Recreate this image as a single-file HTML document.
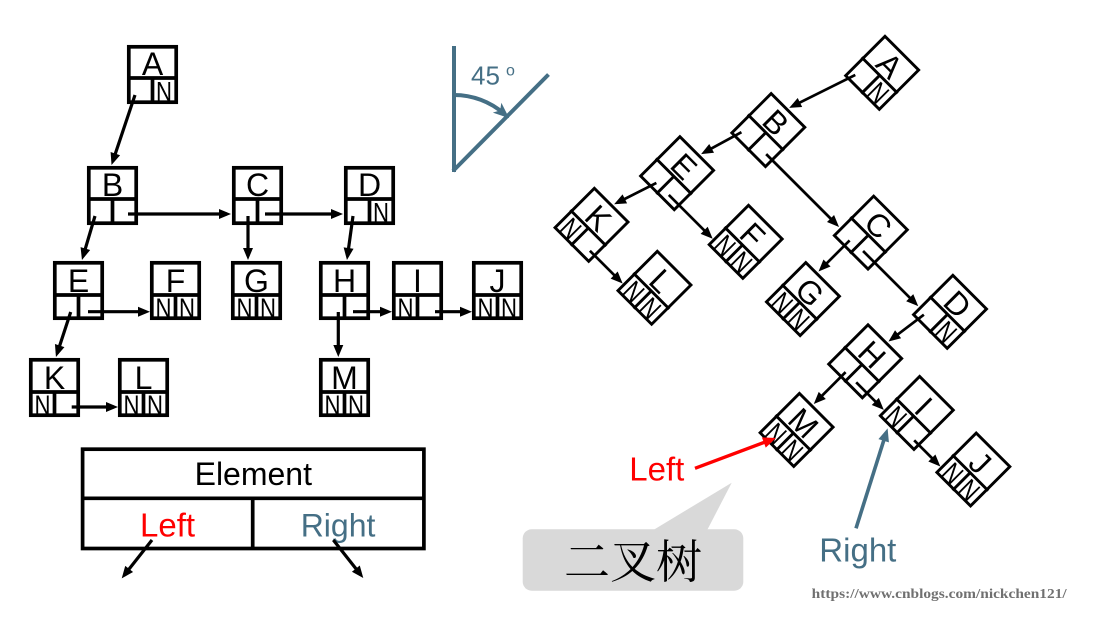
<!DOCTYPE html>
<html>
<head>
<meta charset="utf-8">
<style>
html,body{margin:0;padding:0;background:#fff;}
svg{display:block;}
.nd{fill:none;stroke:#000;stroke-width:3.7;}
.nd text{fill:#000;stroke:none;font-family:"Liberation Sans",Arial,sans-serif;}
.nd .L{font-size:32px;text-anchor:middle;}
.nd .N{font-size:28px;}
.ar{stroke:#000;stroke-width:3.2;fill:none;marker-end:url(#ab);}
.rt .nd{stroke-width:2.9;}
.rt .ar{stroke-width:2.7;}
.t{font-family:"Liberation Sans",Arial,sans-serif;}
</style>
</head>
<body>
<svg width="1099" height="626" viewBox="0 0 1099 626" xmlns="http://www.w3.org/2000/svg">
<defs>
<marker id="ab" markerUnits="userSpaceOnUse" markerWidth="12" markerHeight="10" refX="8" refY="5" orient="auto" overflow="visible"><path d="M0,0 L12,5 L0,10 z" fill="#000"/></marker>
<marker id="ar" markerUnits="userSpaceOnUse" markerWidth="13" markerHeight="11" refX="8" refY="5.5" orient="auto" overflow="visible"><path d="M0,0 L13,5.5 L0,11 z" fill="#ff0000"/></marker>
<marker id="as" markerUnits="userSpaceOnUse" markerWidth="13" markerHeight="11" refX="8" refY="5.5" orient="auto" overflow="visible"><path d="M0,0 L13,5.5 L0,11 z" fill="#456f85"/></marker>
<marker id="a45" markerUnits="userSpaceOnUse" markerWidth="16" markerHeight="13" refX="9" refY="6.5" orient="auto" overflow="visible"><path d="M0,0 L16,6.5 L0,13 L4,6.5 z" fill="#456f85"/></marker>
</defs>

<!-- LEFT TREE -->
<g id="ltree">
<g class="nd" transform="translate(127,45)"><rect x="1.8" y="1.8" width="47.4" height="55.4"/><path d="M0 33H51M25.5 33V59"/><text class="L" x="25.5" y="30">A</text><text class="N" x="29" y="56" textLength="16" lengthAdjust="spacingAndGlyphs">N</text></g>
<g class="nd" transform="translate(87,166)"><rect x="1.8" y="1.8" width="47.4" height="55.4"/><path d="M0 33H51M25.5 33V59"/><text class="L" x="25.5" y="30">B</text></g>
<g class="nd" transform="translate(232,166)"><rect x="1.8" y="1.8" width="47.4" height="55.4"/><path d="M0 33H51M25.5 33V59"/><text class="L" x="25.5" y="30">C</text></g>
<g class="nd" transform="translate(344,166)"><rect x="1.8" y="1.8" width="47.4" height="55.4"/><path d="M0 33H51M25.5 33V59"/><text class="L" x="25.5" y="30">D</text><text class="N" x="29" y="56" textLength="16" lengthAdjust="spacingAndGlyphs">N</text></g>
<g class="nd" transform="translate(53,261)"><rect x="1.8" y="1.8" width="47.4" height="55.4"/><path d="M0 34H51M25.5 34V59"/><text class="L" x="25.5" y="31">E</text></g>
<g class="nd" transform="translate(150,261)"><rect x="1.8" y="1.8" width="47.4" height="55.4"/><path d="M0 34H51M25.5 34V59"/><text class="L" x="25.5" y="31">F</text><text class="N" x="5.5" y="56.5" textLength="16" lengthAdjust="spacingAndGlyphs">N</text><text class="N" x="29" y="56.5" textLength="16" lengthAdjust="spacingAndGlyphs">N</text></g>
<g class="nd" transform="translate(231,261)"><rect x="1.8" y="1.8" width="47.4" height="55.4"/><path d="M0 34H51M25.5 34V59"/><text class="L" x="25.5" y="31">G</text><text class="N" x="5.5" y="56.5" textLength="16" lengthAdjust="spacingAndGlyphs">N</text><text class="N" x="29" y="56.5" textLength="16" lengthAdjust="spacingAndGlyphs">N</text></g>
<g class="nd" transform="translate(319,261)"><rect x="1.8" y="1.8" width="47.4" height="55.4"/><path d="M0 34H51M25.5 34V59"/><text class="L" x="25.5" y="31">H</text></g>
<g class="nd" transform="translate(392,261)"><rect x="1.8" y="1.8" width="47.4" height="55.4"/><path d="M0 34H51M25.5 34V59"/><text class="L" x="25.5" y="31">I</text><text class="N" x="5.5" y="56.5" textLength="16" lengthAdjust="spacingAndGlyphs">N</text></g>
<g class="nd" transform="translate(472,261)"><rect x="1.8" y="1.8" width="47.4" height="55.4"/><path d="M0 34H51M25.5 34V59"/><text class="L" x="25.5" y="31">J</text><text class="N" x="5.5" y="56.5" textLength="16" lengthAdjust="spacingAndGlyphs">N</text><text class="N" x="29" y="56.5" textLength="16" lengthAdjust="spacingAndGlyphs">N</text></g>
<g class="nd" transform="translate(29,358)"><rect x="1.8" y="1.8" width="47.4" height="55.4"/><path d="M0 34H51M25.5 34V59"/><text class="L" x="25.5" y="31">K</text><text class="N" x="5.5" y="56.5" textLength="16" lengthAdjust="spacingAndGlyphs">N</text></g>
<g class="nd" transform="translate(118,358)"><rect x="1.8" y="1.8" width="47.4" height="55.4"/><path d="M0 34H51M25.5 34V59"/><text class="L" x="25.5" y="31">L</text><text class="N" x="5.5" y="56.5" textLength="16" lengthAdjust="spacingAndGlyphs">N</text><text class="N" x="29" y="56.5" textLength="16" lengthAdjust="spacingAndGlyphs">N</text></g>
<g class="nd" transform="translate(319,358)"><rect x="1.8" y="1.8" width="47.4" height="55.4"/><path d="M0 34H51M25.5 34V59"/><text class="L" x="25.5" y="31">M</text><text class="N" x="5.5" y="56.5" textLength="16" lengthAdjust="spacingAndGlyphs">N</text><text class="N" x="29" y="56.5" textLength="16" lengthAdjust="spacingAndGlyphs">N</text></g>

<line class="ar" x1="135" y1="95" x2="112.8" y2="161.2"/>
<line class="ar" x1="95" y1="216" x2="83.1" y2="256.2"/>
<line class="ar" x1="128" y1="214" x2="227" y2="214"/>
<line class="ar" x1="248" y1="216" x2="248" y2="256"/>
<line class="ar" x1="265" y1="214" x2="339" y2="214"/>
<line class="ar" x1="353" y1="216" x2="347.5" y2="256"/>
<line class="ar" x1="70.7" y1="312" x2="57.2" y2="353.2"/>
<line class="ar" x1="88" y1="311.7" x2="146" y2="311.7"/>
<line class="ar" x1="338.3" y1="312" x2="338.3" y2="353"/>
<line class="ar" x1="353" y1="311.7" x2="388" y2="311.7"/>
<line class="ar" x1="435" y1="311.7" x2="468" y2="311.7"/>
<line class="ar" x1="71.7" y1="407" x2="114" y2="407"/>
</g>

<!-- RIGHT (ROTATED) TREE -->
<g class="rt" transform="translate(827,-87.7) rotate(45)">
<g class="nd" transform="translate(127,45)"><rect x="1.7" y="1.7" width="47.6" height="55.6"/><path d="M0 33H51M25.5 33V59"/><text class="L" x="25.5" y="30">A</text><text class="N" x="29" y="56" textLength="16" lengthAdjust="spacingAndGlyphs">N</text></g>
<g class="nd" transform="translate(87,166)"><rect x="1.7" y="1.7" width="47.6" height="55.6"/><path d="M0 33H51M25.5 33V59"/><text class="L" x="25.5" y="30">B</text></g>
<g class="nd" transform="translate(232,166)"><rect x="1.7" y="1.7" width="47.6" height="55.6"/><path d="M0 33H51M25.5 33V59"/><text class="L" x="25.5" y="30">C</text></g>
<g class="nd" transform="translate(344,166)"><rect x="1.7" y="1.7" width="47.6" height="55.6"/><path d="M0 33H51M25.5 33V59"/><text class="L" x="25.5" y="30">D</text><text class="N" x="29" y="56" textLength="16" lengthAdjust="spacingAndGlyphs">N</text></g>
<g class="nd" transform="translate(53,261)"><rect x="1.7" y="1.7" width="47.6" height="55.6"/><path d="M0 34H51M25.5 34V59"/><text class="L" x="25.5" y="31">E</text></g>
<g class="nd" transform="translate(150,261)"><rect x="1.7" y="1.7" width="47.6" height="55.6"/><path d="M0 34H51M25.5 34V59"/><text class="L" x="25.5" y="31">F</text><text class="N" x="5.5" y="56.5" textLength="16" lengthAdjust="spacingAndGlyphs">N</text><text class="N" x="29" y="56.5" textLength="16" lengthAdjust="spacingAndGlyphs">N</text></g>
<g class="nd" transform="translate(231,261)"><rect x="1.7" y="1.7" width="47.6" height="55.6"/><path d="M0 34H51M25.5 34V59"/><text class="L" x="25.5" y="31">G</text><text class="N" x="5.5" y="56.5" textLength="16" lengthAdjust="spacingAndGlyphs">N</text><text class="N" x="29" y="56.5" textLength="16" lengthAdjust="spacingAndGlyphs">N</text></g>
<g class="nd" transform="translate(319,261)"><rect x="1.7" y="1.7" width="47.6" height="55.6"/><path d="M0 34H51M25.5 34V59"/><text class="L" x="25.5" y="31">H</text></g>
<g class="nd" transform="translate(392,261)"><rect x="1.7" y="1.7" width="47.6" height="55.6"/><path d="M0 34H51M25.5 34V59"/><text class="L" x="25.5" y="31">I</text><text class="N" x="5.5" y="56.5" textLength="16" lengthAdjust="spacingAndGlyphs">N</text></g>
<g class="nd" transform="translate(472,261)"><rect x="1.7" y="1.7" width="47.6" height="55.6"/><path d="M0 34H51M25.5 34V59"/><text class="L" x="25.5" y="31">J</text><text class="N" x="5.5" y="56.5" textLength="16" lengthAdjust="spacingAndGlyphs">N</text><text class="N" x="29" y="56.5" textLength="16" lengthAdjust="spacingAndGlyphs">N</text></g>
<g class="nd" transform="translate(29,358)"><rect x="1.7" y="1.7" width="47.6" height="55.6"/><path d="M0 34H51M25.5 34V59"/><text class="L" x="25.5" y="31">K</text><text class="N" x="5.5" y="56.5" textLength="16" lengthAdjust="spacingAndGlyphs">N</text></g>
<g class="nd" transform="translate(118,358)"><rect x="1.7" y="1.7" width="47.6" height="55.6"/><path d="M0 34H51M25.5 34V59"/><text class="L" x="25.5" y="31">L</text><text class="N" x="5.5" y="56.5" textLength="16" lengthAdjust="spacingAndGlyphs">N</text><text class="N" x="29" y="56.5" textLength="16" lengthAdjust="spacingAndGlyphs">N</text></g>
<g class="nd" transform="translate(319,358)"><rect x="1.7" y="1.7" width="47.6" height="55.6"/><path d="M0 34H51M25.5 34V59"/><text class="L" x="25.5" y="31">M</text><text class="N" x="5.5" y="56.5" textLength="16" lengthAdjust="spacingAndGlyphs">N</text><text class="N" x="29" y="56.5" textLength="16" lengthAdjust="spacingAndGlyphs">N</text></g>

<line class="ar" x1="135" y1="95" x2="112.8" y2="161.2"/>
<line class="ar" x1="95" y1="216" x2="83.1" y2="256.2"/>
<line class="ar" x1="128" y1="214" x2="227" y2="214"/>
<line class="ar" x1="248" y1="216" x2="248" y2="256"/>
<line class="ar" x1="265" y1="214" x2="339" y2="214"/>
<line class="ar" x1="353" y1="216" x2="347.5" y2="256"/>
<line class="ar" x1="70.7" y1="312" x2="57.2" y2="353.2"/>
<line class="ar" x1="88" y1="311.7" x2="146" y2="311.7"/>
<line class="ar" x1="338.3" y1="312" x2="338.3" y2="353"/>
<line class="ar" x1="353" y1="311.7" x2="388" y2="311.7"/>
<line class="ar" x1="435" y1="311.7" x2="468" y2="311.7"/>
<line class="ar" x1="71.7" y1="407" x2="114" y2="407"/>
</g>

<!-- LEGEND -->
<g fill="none" stroke="#000" stroke-width="3.7">
<rect x="82.6" y="449.2" width="341.3" height="99.3"/>
<line x1="81" y1="498.3" x2="425.5" y2="498.3"/>
<line x1="252.7" y1="498.3" x2="252.7" y2="550"/>
</g>
<text class="t" x="253.3" y="485" font-size="32" text-anchor="middle" fill="#000">Element</text>
<text class="t" x="140" y="536.7" font-size="33" fill="#ff0000">Left</text>
<text class="t" x="300.7" y="536.7" font-size="32" fill="#456f85">Right</text>
<line class="ar" x1="152" y1="540" x2="124.2" y2="575.2"/>
<line class="ar" x1="333.3" y1="540" x2="360.8" y2="574.9"/>

<!-- 45 degree symbol -->
<g stroke="#456f85" stroke-width="4" fill="none">
<line x1="454" y1="46" x2="454" y2="172"/>
<line x1="453" y1="171" x2="548.5" y2="74.5"/>
<path d="M454,95 A76,76 0 0 1 503.9,113.6" marker-end="url(#a45)"/>
</g>
<text class="t" x="471" y="84.5" font-size="26" fill="#456f85">45</text>
<text class="t" x="506" y="75.5" font-size="16" fill="#456f85">o</text>

<!-- right side labels -->
<text class="t" x="629.3" y="480.7" font-size="33" fill="#ff0000">Left</text>
<line x1="695" y1="468.3" x2="771.3" y2="439.7" stroke="#ff0000" stroke-width="3.4" marker-end="url(#ar)"/>
<text class="t" x="819.3" y="561.7" font-size="33" fill="#456f85">Right</text>
<line x1="856" y1="528.3" x2="886.1" y2="433.1" stroke="#456f85" stroke-width="3.6" marker-end="url(#as)"/>

<!-- callout -->
<polygon points="651.7,531 731.7,482.7 706.7,531" fill="#d9d9d9"/>
<rect x="522.7" y="529.3" width="220.6" height="61.4" rx="9" ry="9" fill="#d9d9d9"/>
<text x="633" y="578" font-size="46" text-anchor="middle" fill="#000" font-family="'Noto Serif CJK SC','Noto Sans CJK SC',serif">二叉树</text>

<!-- watermark -->
<text x="811.7" y="598" font-size="14" font-weight="bold" fill="#707070" font-family="'Liberation Serif',serif" textLength="255" lengthAdjust="spacingAndGlyphs">https://www.cnblogs.com/nickchen121/</text>
</svg>
</body>
</html>
